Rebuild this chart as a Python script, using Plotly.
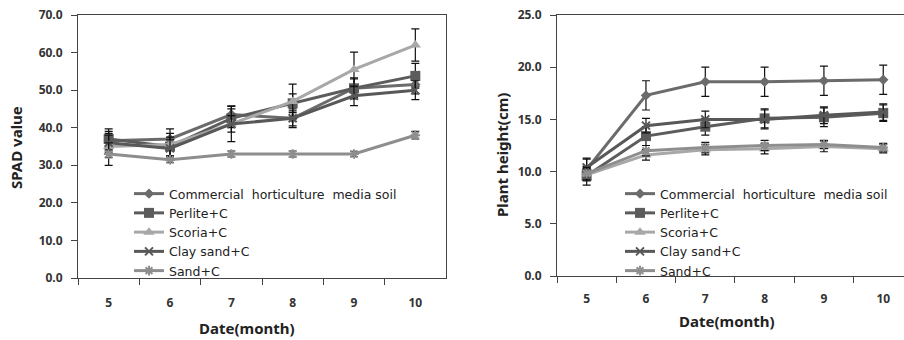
import plotly.graph_objects as go

months = ["5", "6", "7", "8", "9", "10"]
series_names = ["Commercial  horticulture  media soil", "Perlite+C", "Scoria+C", "Clay sand+C", "Sand+C"]

spad_commercial = [36.5, 37.0, 43.5, 42.5, 50.5, 51.5]
spad_perlite = [37.0, 35.0, 42.5, 46.5, 50.5, 53.8]
spad_scoria = [35.0, 35.5, 41.0, 47.0, 55.5, 62.0]
spad_clay = [36.0, 34.5, 41.0, 42.5, 48.5, 50.0]
spad_sand = [33.0, 31.5, 33.0, 33.0, 33.0, 38.0]

spad_err_commercial = [2.5, 2.7, 2.3, 2.5, 2.8, 2.5]
spad_err_perlite = [2.7, 2.5, 2.5, 2.5, 2.5, 3.3]
spad_err_scoria = [3.0, 3.0, 4.7, 4.6, 4.6, 4.3]
spad_err_clay = [2.5, 2.3, 2.2, 2.0, 2.6, 2.5]
spad_err_sand = [3.0, 0.8, 0.8, 0.8, 0.7, 1.0]

ht_commercial = [10.2, 17.3, 18.6, 18.6, 18.7, 18.8]
ht_perlite = [9.6, 13.4, 14.3, 15.1, 15.2, 15.6]
ht_scoria = [9.7, 11.6, 12.1, 12.2, 12.4, 12.2]
ht_clay = [10.4, 14.4, 15.0, 15.0, 15.4, 15.7]
ht_sand = [9.8, 12.0, 12.3, 12.5, 12.6, 12.3]

ht_err_commercial = [1.0, 1.4, 1.4, 1.4, 1.4, 1.4]
ht_err_perlite = [0.9, 0.9, 0.8, 0.9, 0.9, 0.8]
ht_err_scoria = [0.6, 0.5, 0.5, 0.5, 0.5, 0.4]
ht_err_clay = [0.9, 0.7, 0.8, 0.9, 0.8, 0.8]
ht_err_sand = [0.6, 0.5, 0.5, 0.5, 0.4, 0.4]

spad_ticks = [0, 10, 20, 30, 40, 50, 60, 70]
height_ticks = [0, 5, 10, 15, 20, 25]

colors = ["#6b6b6b", "#5c5c5c", "#a8a8a8", "#585858", "#8e8e8e"]
symbols = ["diamond", "square", "triangle-up", "x-thin", "asterisk"]
sizes = [8, 10, 10, 8, 8]

FONT = "Noto Sans, DejaVu Sans, sans-serif"
LEG_FONT = "DejaVu Sans, sans-serif"

fig = go.Figure()

left_sets = [(spad_commercial, spad_err_commercial), (spad_perlite, spad_err_perlite),
             (spad_scoria, spad_err_scoria), (spad_clay, spad_err_clay), (spad_sand, spad_err_sand)]
right_sets = [(ht_commercial, ht_err_commercial), (ht_perlite, ht_err_perlite),
              (ht_scoria, ht_err_scoria), (ht_clay, ht_err_clay), (ht_sand, ht_err_sand)]


def add_series(sets, xa, ya, legend):
    for i, (vals, errs) in enumerate(sets):
        line_sym = symbols[i] in ("x-thin", "asterisk")
        fig.add_trace(go.Scatter(
            x=months, y=vals, name=series_names[i], mode="lines+markers",
            xaxis=xa, yaxis=ya, legend=legend,
            line=dict(color=colors[i], width=3),
            marker=dict(symbol=symbols[i], size=sizes[i], color=colors[i],
                        line=dict(color=colors[i], width=2 if line_sym else 0)),
            error_y=dict(type="data", array=errs, visible=True, color="#111111",
                         thickness=1.2, width=4),
        ))


add_series(left_sets, "x", "y", "legend")
add_series(right_sets, "x2", "y2", "legend2")

axis_line = "#444444"
tick_font = dict(family=FONT, size=12, color="#333333", weight="bold")

common_x = dict(type="category", showline=True, linecolor=axis_line, linewidth=1, mirror=True,
                ticks="outside", tickson="boundaries", ticklen=6, tickcolor=axis_line,
                showgrid=False, zeroline=False, tickfont=tick_font, automargin=False)
common_y = dict(tickformat=".1f", showline=True, linecolor=axis_line, linewidth=1,
                ticks="outside", ticklen=6, tickcolor=axis_line, showgrid=False,
                zeroline=False, tickfont=tick_font, automargin=False, ticklabelstandoff=6)

title_font = dict(family=FONT, size=15, color="#222222")

fig.update_layout(
    width=904, height=340,
    margin=dict(l=0, r=0, t=0, b=0, autoexpand=False),
    paper_bgcolor="white", plot_bgcolor="white",
    showlegend=True,
    xaxis=dict(domain=[78 / 904, 446 / 904], range=[-0.5, 5.5], anchor="y",
               ticklabelstandoff=14, **common_x),
    yaxis=dict(domain=[1 - 278 / 340, 1 - 15 / 340], range=[0, 70], tickvals=spad_ticks,
               mirror=True, anchor="x", **common_y),
    xaxis2=dict(domain=[557 / 904, 1.0], range=[-0.5, 5.35], anchor="y2",
                ticklabelstandoff=12, **common_x),
    yaxis2=dict(domain=[1 - 276 / 340, 1 - 15 / 340], range=[0, 25], tickvals=height_ticks,
                mirror=False, anchor="x2", **common_y),
    legend=dict(x=129 / 904, xanchor="left", y=1 - 179 / 340, yanchor="top",
                bgcolor="rgba(0,0,0,0)", font=dict(family=LEG_FONT, size=12.5, color="#222222"),
                tracegroupgap=0, itemwidth=30),
    legend2=dict(x=620 / 904, xanchor="left", y=1 - 179 / 340, yanchor="top",
                 bgcolor="rgba(0,0,0,0)", font=dict(family=LEG_FONT, size=12.5, color="#222222"),
                 tracegroupgap=0, itemwidth=30),
    annotations=[
        dict(text="<b>SPAD value</b>", xref="paper", yref="paper", x=16 / 904, y=1 - 148 / 340,
             xanchor="center", yanchor="middle", textangle=-90, showarrow=False, font=title_font),
        dict(text="<b>Date(month)</b>", xref="paper", yref="paper", x=247 / 904, y=1 - 328 / 340,
             xanchor="center", yanchor="middle", showarrow=False, font=title_font),
        dict(text="<b>Plant height(cm)</b>", xref="paper", yref="paper", x=502 / 904, y=1 - 155 / 340,
             xanchor="center", yanchor="middle", textangle=-90, showarrow=False, font=title_font),
        dict(text="<b>Date(month)</b>", xref="paper", yref="paper", x=727 / 904, y=1 - 321 / 340,
             xanchor="center", yanchor="middle", showarrow=False, font=title_font),
    ],
)

fig.write_html("out.html", config={"displayModeBar": False},
               post_script="document.body.style.margin='0';document.body.style.padding='0';")
